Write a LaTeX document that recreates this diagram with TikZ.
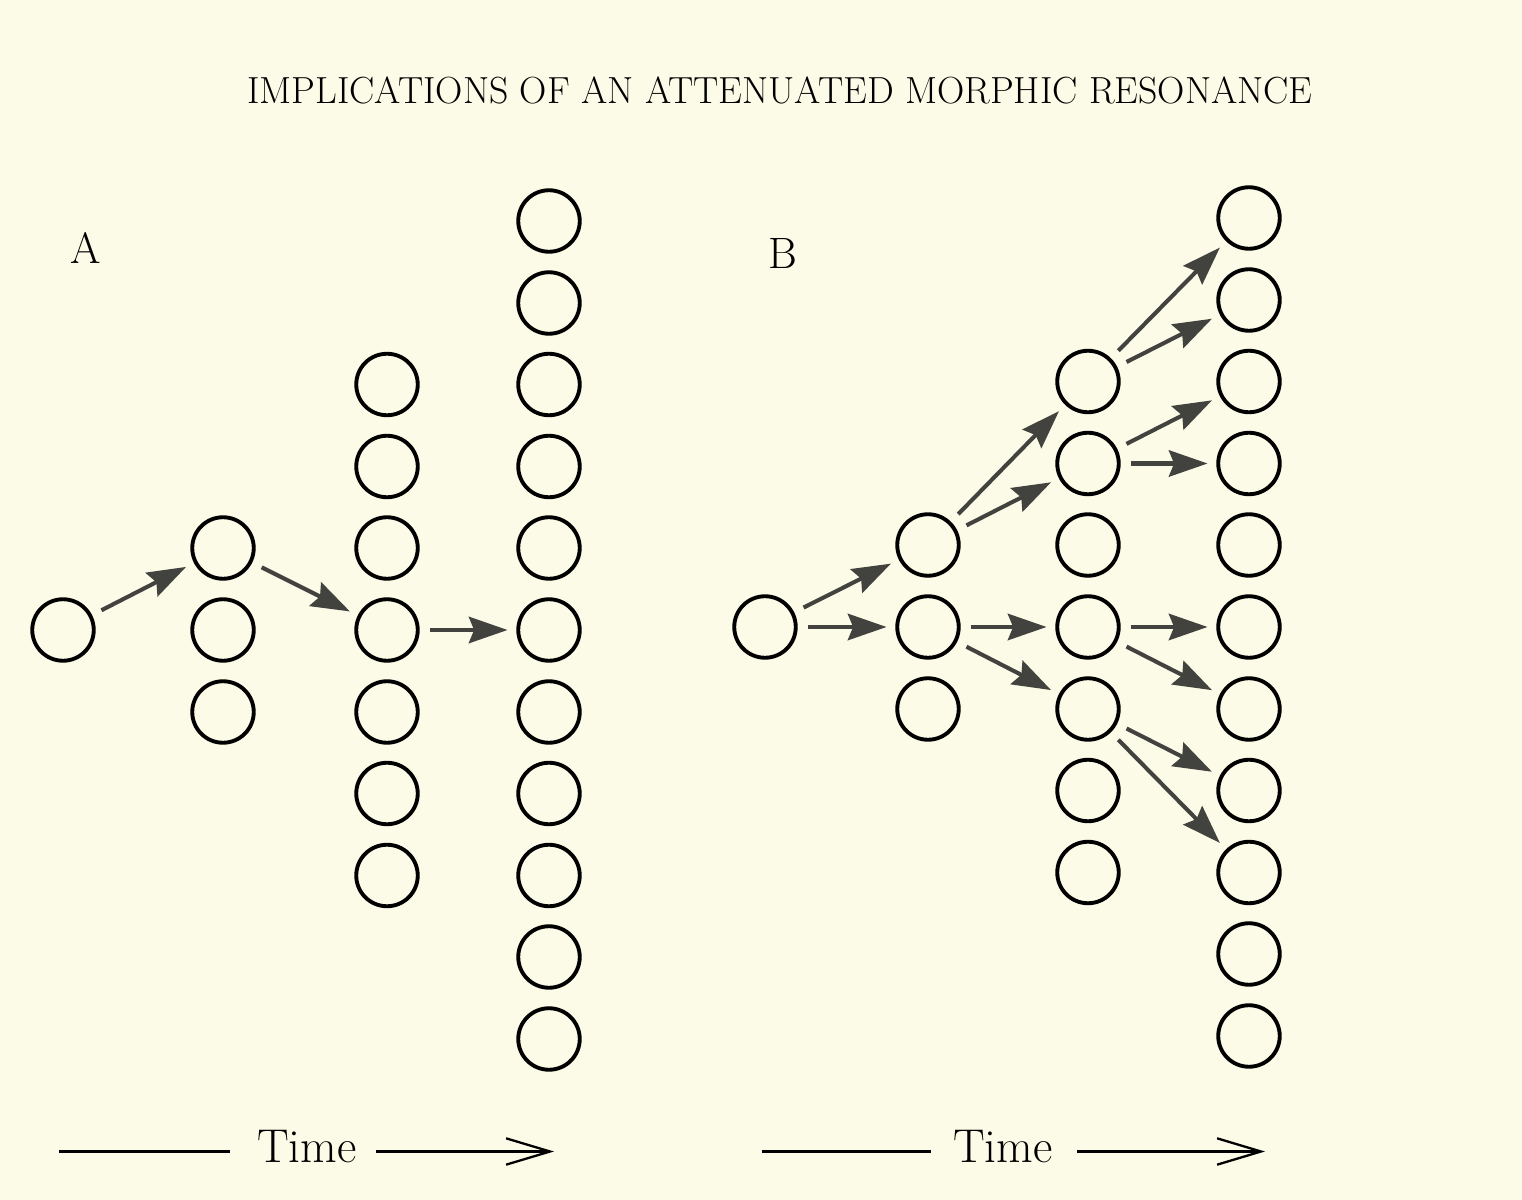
\documentclass[tikz,border=0pt]{standalone}
\usepackage{fontspec}
\usetikzlibrary{arrows.meta}
\definecolor{paper}{RGB}{252,251,231}
\definecolor{inkgray}{RGB}{66,66,62}

\begin{document}
\begin{tikzpicture}[
    cell/.style={circle, draw=black, line width=2.2pt, minimum size=1.23cm, inner sep=0pt},
    push/.style={-{Stealth[length=22pt,width=15pt,inset=3pt]}, line width=2.3pt, draw=inkgray, shorten >=5pt, shorten <=6pt},
    timeline/.style={line width=1.3pt},
    timearrow/.style={-{Straight Barb[length=25pt,width=15pt]}, line width=1.3pt},
    panel/.style={font=\fontsize{25}{30}\selectfont},
    timetext/.style={font=\fontsize{27}{32}\selectfont, anchor=base, inner sep=0pt}
]

\fill[paper] (0,0) rectangle (30.44,-24);
\useasboundingbox (0,0) rectangle (30.44,-24);

\node[font=\fontsize{21.5}{26}\selectfont] (title) at (15.6,-1.80) {IMPLICATIONS OF AN ATTENUATED MORPHIC RESONANCE};
\node[panel] (labelA) at (1.72,-4.96) {A};
\node[panel] (labelB) at (15.66,-5.08) {B};

% panel A
\node[cell] (a0) at (1.26,-12.60) {};

\node[cell] (a1t) at (4.46,-10.96) {};
\node[cell] (a1m) at (4.46,-12.60) {};
\node[cell] (a1b) at (4.46,-14.24) {};

\node[cell] (a2p3) at (7.74,-7.69) {};
\node[cell] (a2p2) at (7.74,-9.33) {};
\node[cell] (a2p1) at (7.74,-10.96) {};
\node[cell] (a2m) at (7.74,-12.60) {};
\node[cell] (a2n1) at (7.74,-14.24) {};
\node[cell] (a2n2) at (7.74,-15.87) {};
\node[cell] (a2n3) at (7.74,-17.51) {};

\node[cell] (a3p5) at (10.98,-4.42) {};
\node[cell] (a3p4) at (10.98,-6.06) {};
\node[cell] (a3p3) at (10.98,-7.69) {};
\node[cell] (a3p2) at (10.98,-9.33) {};
\node[cell] (a3p1) at (10.98,-10.96) {};
\node[cell] (a3m) at (10.98,-12.60) {};
\node[cell] (a3n1) at (10.98,-14.24) {};
\node[cell] (a3n2) at (10.98,-15.87) {};
\node[cell] (a3n3) at (10.98,-17.51) {};
\node[cell] (a3n4) at (10.98,-19.14) {};
\node[cell] (a3n5) at (10.98,-20.78) {};

\draw[push] (a0) -- (a1t);
\draw[push] (a1t) -- (a2m);
\draw[push] (a2m) -- (a3m);

% panel B
\node[cell] (b0) at (15.30,-12.54) {};

\node[cell] (b1t) at (18.56,-10.90) {};
\node[cell] (b1m) at (18.56,-12.54) {};
\node[cell] (b1b) at (18.56,-14.18) {};

\node[cell] (b2p3) at (21.76,-7.63) {};
\node[cell] (b2p2) at (21.76,-9.27) {};
\node[cell] (b2p1) at (21.76,-10.90) {};
\node[cell] (b2m) at (21.76,-12.54) {};
\node[cell] (b2n1) at (21.76,-14.18) {};
\node[cell] (b2n2) at (21.76,-15.81) {};
\node[cell] (b2n3) at (21.76,-17.45) {};

\node[cell] (b3p5) at (24.98,-4.36) {};
\node[cell] (b3p4) at (24.98,-6.00) {};
\node[cell] (b3p3) at (24.98,-7.63) {};
\node[cell] (b3p2) at (24.98,-9.27) {};
\node[cell] (b3p1) at (24.98,-10.90) {};
\node[cell] (b3m) at (24.98,-12.54) {};
\node[cell] (b3n1) at (24.98,-14.18) {};
\node[cell] (b3n2) at (24.98,-15.81) {};
\node[cell] (b3n3) at (24.98,-17.45) {};
\node[cell] (b3n4) at (24.98,-19.08) {};
\node[cell] (b3n5) at (24.98,-20.72) {};

\draw[push] (b0) -- (b1t);
\draw[push] (b0) -- (b1m);
\draw[push] (b1t) -- (b2p3);
\draw[push] (b1t) -- (b2p2);
\draw[push] (b1m) -- (b2m);
\draw[push] (b1m) -- (b2n1);
\draw[push] (b2p3) -- (b3p5);
\draw[push] (b2p3) -- (b3p4);
\draw[push] (b2p2) -- (b3p3);
\draw[push] (b2p2) -- (b3p2);
\draw[push] (b2m) -- (b3m);
\draw[push] (b2m) -- (b3n1);
\draw[push] (b2n1) -- (b3n2);
\draw[push] (b2n1) -- (b3n3);

% time axes
\node[timetext] (timeA) at (6.14,-23.24) {Time};
\coordinate (tAstart) at (1.18,-23.03);
\coordinate (tAgap) at (4.60,-23.03);
\coordinate (tAfrom) at (7.52,-23.03);
\coordinate (tAto) at (11.08,-23.03);
\draw[timeline] (tAstart) -- (tAgap);
\draw[timearrow] (tAfrom) -- (tAto);

\node[timetext] (timeB) at (20.06,-23.24) {Time};
\coordinate (tBstart) at (15.24,-23.03);
\coordinate (tBgap) at (18.62,-23.03);
\coordinate (tBfrom) at (21.54,-23.03);
\coordinate (tBto) at (25.30,-23.03);
\draw[timeline] (tBstart) -- (tBgap);
\draw[timearrow] (tBfrom) -- (tBto);

\end{tikzpicture}
\end{document}
